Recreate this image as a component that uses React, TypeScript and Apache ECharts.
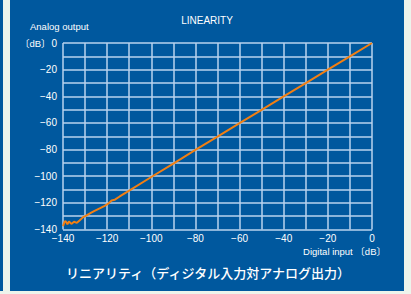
import React, { useEffect, useRef } from "react";
import * as echarts from "echarts";

const inputDb = [
  -140, -139.3, -138.8, -138, -137.3, -136.2, -135, -133.7, -132.5, -131, -129.5,
  -127.2, -125.7, -123.4, -121.1, -119.2, -118, -116.5, -114.3, -110, -100, -90,
  -80, -70, -60, -50, -40, -30, -20, -10, 0,
];
const outputDb = [
  -137.5, -134.2, -133.8, -136, -134, -135.8, -134.2, -135, -133.3, -130.9, -129.6,
  -127.3, -126, -124.2, -122.2, -120.2, -118.2, -117.6, -115.2, -110.8, -100.6, -90.5,
  -80.3, -70.3, -60.2, -50.2, -40.1, -30.1, -20, -10, 0,
];
const tickStep = 10;
const labelStep = 20;

const BLUE = "#00589e";
const LIGHT = "#edf4ec";
const GRID = "#b9d3ee";
const LATIN = "'Liberation Sans', Arial, 'Noto Sans CJK JP', sans-serif";

export default function App() {
  const ref = useRef<HTMLDivElement>(null);
  useEffect(() => {
    document.body.style.margin = "0";
    const chart = echarts.init(ref.current!, null, { renderer: "svg" });
    const fmt = (v: number) =>
      v % labelStep === 0 ? String(v).replace("-", "\u2212") : "";
    chart.setOption({
      animation: false,
      backgroundColor: LIGHT,
      graphic: [
        { type: "rect", z: -10, shape: { x: 0, y: 0, width: 3, height: 291 }, style: { fill: BLUE } },
        { type: "rect", z: -10, shape: { x: 10, y: 0, width: 394, height: 291 }, style: { fill: BLUE } },
        {
          type: "text", x: 207, y: 20,
          style: { text: "LINEARITY", fill: "#fff", font: `10px ${LATIN}`, align: "center", verticalAlign: "middle" },
        },
        {
          type: "text", x: 30, y: 26,
          style: { text: "Analog output", fill: "#fff", font: `9.5px ${LATIN}`, align: "left", verticalAlign: "middle" },
        },
        {
          type: "text", x: 50.5, y: 43.5,
          style: { text: "〔dB〕", fill: "#fff", font: `9.5px ${LATIN}`, align: "right", verticalAlign: "middle" },
        },
        {
          type: "text", x: 386, y: 251,
          style: { text: "Digital input 〔dB〕", fill: "#fff", font: `9.5px ${LATIN}`, align: "right", verticalAlign: "middle" },
        },
        {
          type: "text", x: 208, y: 272,
          style: {
            text: "リニアリティ（ディジタル入力対アナログ出力）",
            fill: "#fff",
            font: `500 13px 'Noto Sans CJK JP', sans-serif`,
            align: "center",
            verticalAlign: "middle",
          },
        },
      ],
      grid: { left: 63, right: 39, top: 43, height: 186.5, containLabel: false },
      xAxis: {
        type: "value",
        min: -140,
        max: 0,
        interval: tickStep,
        axisLine: { show: false },
        axisTick: { show: false },
        splitLine: { show: true, lineStyle: { color: GRID, width: 1.5 } },
        axisLabel: { color: "#fff", fontSize: 10, fontFamily: LATIN, margin: 4, formatter: fmt },
      },
      yAxis: {
        type: "value",
        min: -140,
        max: 0,
        interval: tickStep,
        axisLine: { show: false },
        axisTick: { show: false },
        splitLine: { show: true, lineStyle: { color: GRID, width: 1.5 } },
        axisLabel: { color: "#fff", fontSize: 10, fontFamily: LATIN, margin: 6, formatter: fmt },
      },
      series: [
        {
          type: "line",
          data: inputDb.map((x, i) => [x, outputDb[i]]),
          showSymbol: false,
          lineStyle: { color: "#f27f12", width: 2 },
          z: 5,
        },
      ],
    });
    return () => chart.dispose();
  }, []);
  return <div ref={ref} style={{ position: "absolute", left: 0, top: 0, width: 411, height: 294 }} />;
}
